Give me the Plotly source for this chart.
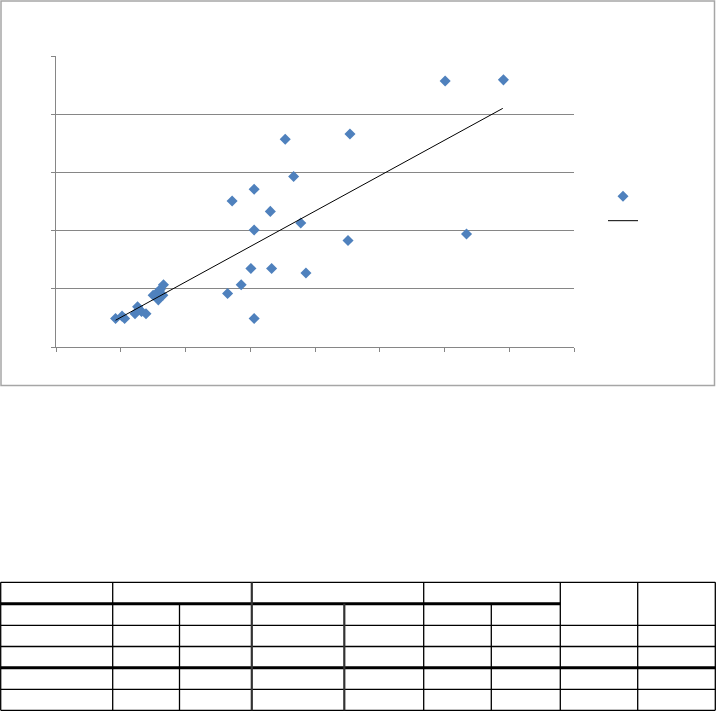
import plotly.graph_objects as go

# ---------------- data ----------------
x_values = [0.92, 1.02, 1.06, 1.22, 1.26, 1.32, 1.39, 1.50, 1.56, 1.58, 1.61, 1.65, 1.66,
            2.65, 2.72, 2.86, 3.01, 3.06, 3.06, 3.06, 3.31, 3.33, 3.54, 3.67, 3.78, 3.86,
            4.51, 4.54, 6.01, 6.91, 6.34]
y_values = [0.49, 0.53, 0.49, 0.57, 0.69, 0.61, 0.57, 0.89, 0.93, 0.81, 0.99, 0.89, 1.07,
            0.92, 2.51, 1.07, 1.35, 2.71, 2.01, 0.49, 2.33, 1.35, 3.57, 2.93, 2.13, 1.27,
            1.83, 3.66, 4.57, 4.59, 1.94]
trend_x = [0.92, 6.90]
trend_y = [0.46, 4.10]

x_range = [0, 8]
y_range = [0, 5]

# ---------------- layout constants (pixels) ----------------
W, H = 716, 711
PLOT_L, PLOT_R, PLOT_T, PLOT_B = 56, 574, 56, 347
BORDER = (1, 1, 714.5, 385.5)
TABLE_ROWS = [582.3, 603.7, 625.3, 646.5, 667.7, 689.3, 710.3]
TABLE_COLS = [0.7, 112.7, 179.5, 251.8, 344.3, 423.7, 491.3, 560.3, 637.7, 715.3]

BLUE = "#4F81BD"
GRID = "#868686"


def px(x):
    return x / W


def py(y):
    return 1 - y / H


fig = go.Figure()
fig.add_trace(go.Scatter(
    x=x_values, y=y_values, mode="markers", name=" ",
    marker=dict(symbol="diamond", size=8.5, color=BLUE, line=dict(width=0)),
    hoverinfo="skip"))
fig.add_trace(go.Scatter(
    x=trend_x, y=trend_y, mode="lines", name=" ",
    line=dict(color="black", width=1), hoverinfo="skip"))

shapes = []
# outer chart border
shapes.append(dict(type="rect", xref="paper", yref="paper",
                   x0=px(BORDER[0]), x1=px(BORDER[2]), y0=py(BORDER[1]), y1=py(BORDER[3]),
                   line=dict(color="#A6A6A6", width=1.5), fillcolor="rgba(0,0,0,0)", layer="below"))


def hline(y, x0, x1, w):
    shapes.append(dict(type="line", xref="paper", yref="paper",
                       x0=px(x0), x1=px(x1), y0=py(y), y1=py(y),
                       line=dict(color="black", width=w)))


def vline(x, y0, y1, w, color="black"):
    shapes.append(dict(type="line", xref="paper", yref="paper",
                       x0=px(x), x1=px(x), y0=py(y0), y1=py(y1),
                       line=dict(color=color, width=w)))


R, C = TABLE_ROWS, TABLE_COLS
left, right = C[0], C[-1]
hline(R[0], left, right, 1.3)
hline(R[1], left, C[7], 3)
hline(R[2], left, right, 1.3)
hline(R[3], left, right, 1.3)
hline(R[4], left, right, 3)
hline(R[5], left, right, 1.3)
hline(R[6], left, right, 1.3)

top, bot = R[0], R[6]
vline(C[0], top, bot, 1.3)
vline(C[1], top, bot, 1.3)
vline(C[2], R[1], bot, 1.3)
vline(C[3], top, bot, 2.2, "#333333")
vline(C[4], R[1], bot, 2.2, "#333333")
vline(C[5], top, bot, 1.3)
vline(C[6], R[1], bot, 1.3)
vline(C[7], top, bot, 1.3)
vline(C[8], top, bot, 1.3)
vline(C[9], top, bot, 1.3)

fig.update_layout(
    width=W, height=H, autosize=False,
    margin=dict(l=0, r=0, t=0, b=0),
    paper_bgcolor="white", plot_bgcolor="white",
    shapes=shapes,
    showlegend=True,
    legend=dict(x=px(603), y=py(179), xanchor="left", yanchor="top",
                bgcolor="rgba(0,0,0,0)", font=dict(size=16.5, family="Arial"),
                itemwidth=30),
    xaxis=dict(domain=[px(PLOT_L), px(PLOT_R)], range=x_range, dtick=1,
               showgrid=False, zeroline=False, showline=True, linecolor=GRID, linewidth=1,
               ticks="outside", ticklen=4, tickcolor=GRID, showticklabels=False,
               fixedrange=True),
    yaxis=dict(domain=[py(PLOT_B), py(PLOT_T)], range=y_range, dtick=1,
               showgrid=True, gridcolor=GRID, gridwidth=1, zeroline=False,
               showline=True, linecolor=GRID, linewidth=1,
               ticks="outside", ticklen=4, tickcolor=GRID, showticklabels=False,
               fixedrange=True),
)

fig.write_html("out.html", config=dict(displayModeBar=False),
               post_script="document.body.style.margin='0';document.body.style.overflow='hidden';")
